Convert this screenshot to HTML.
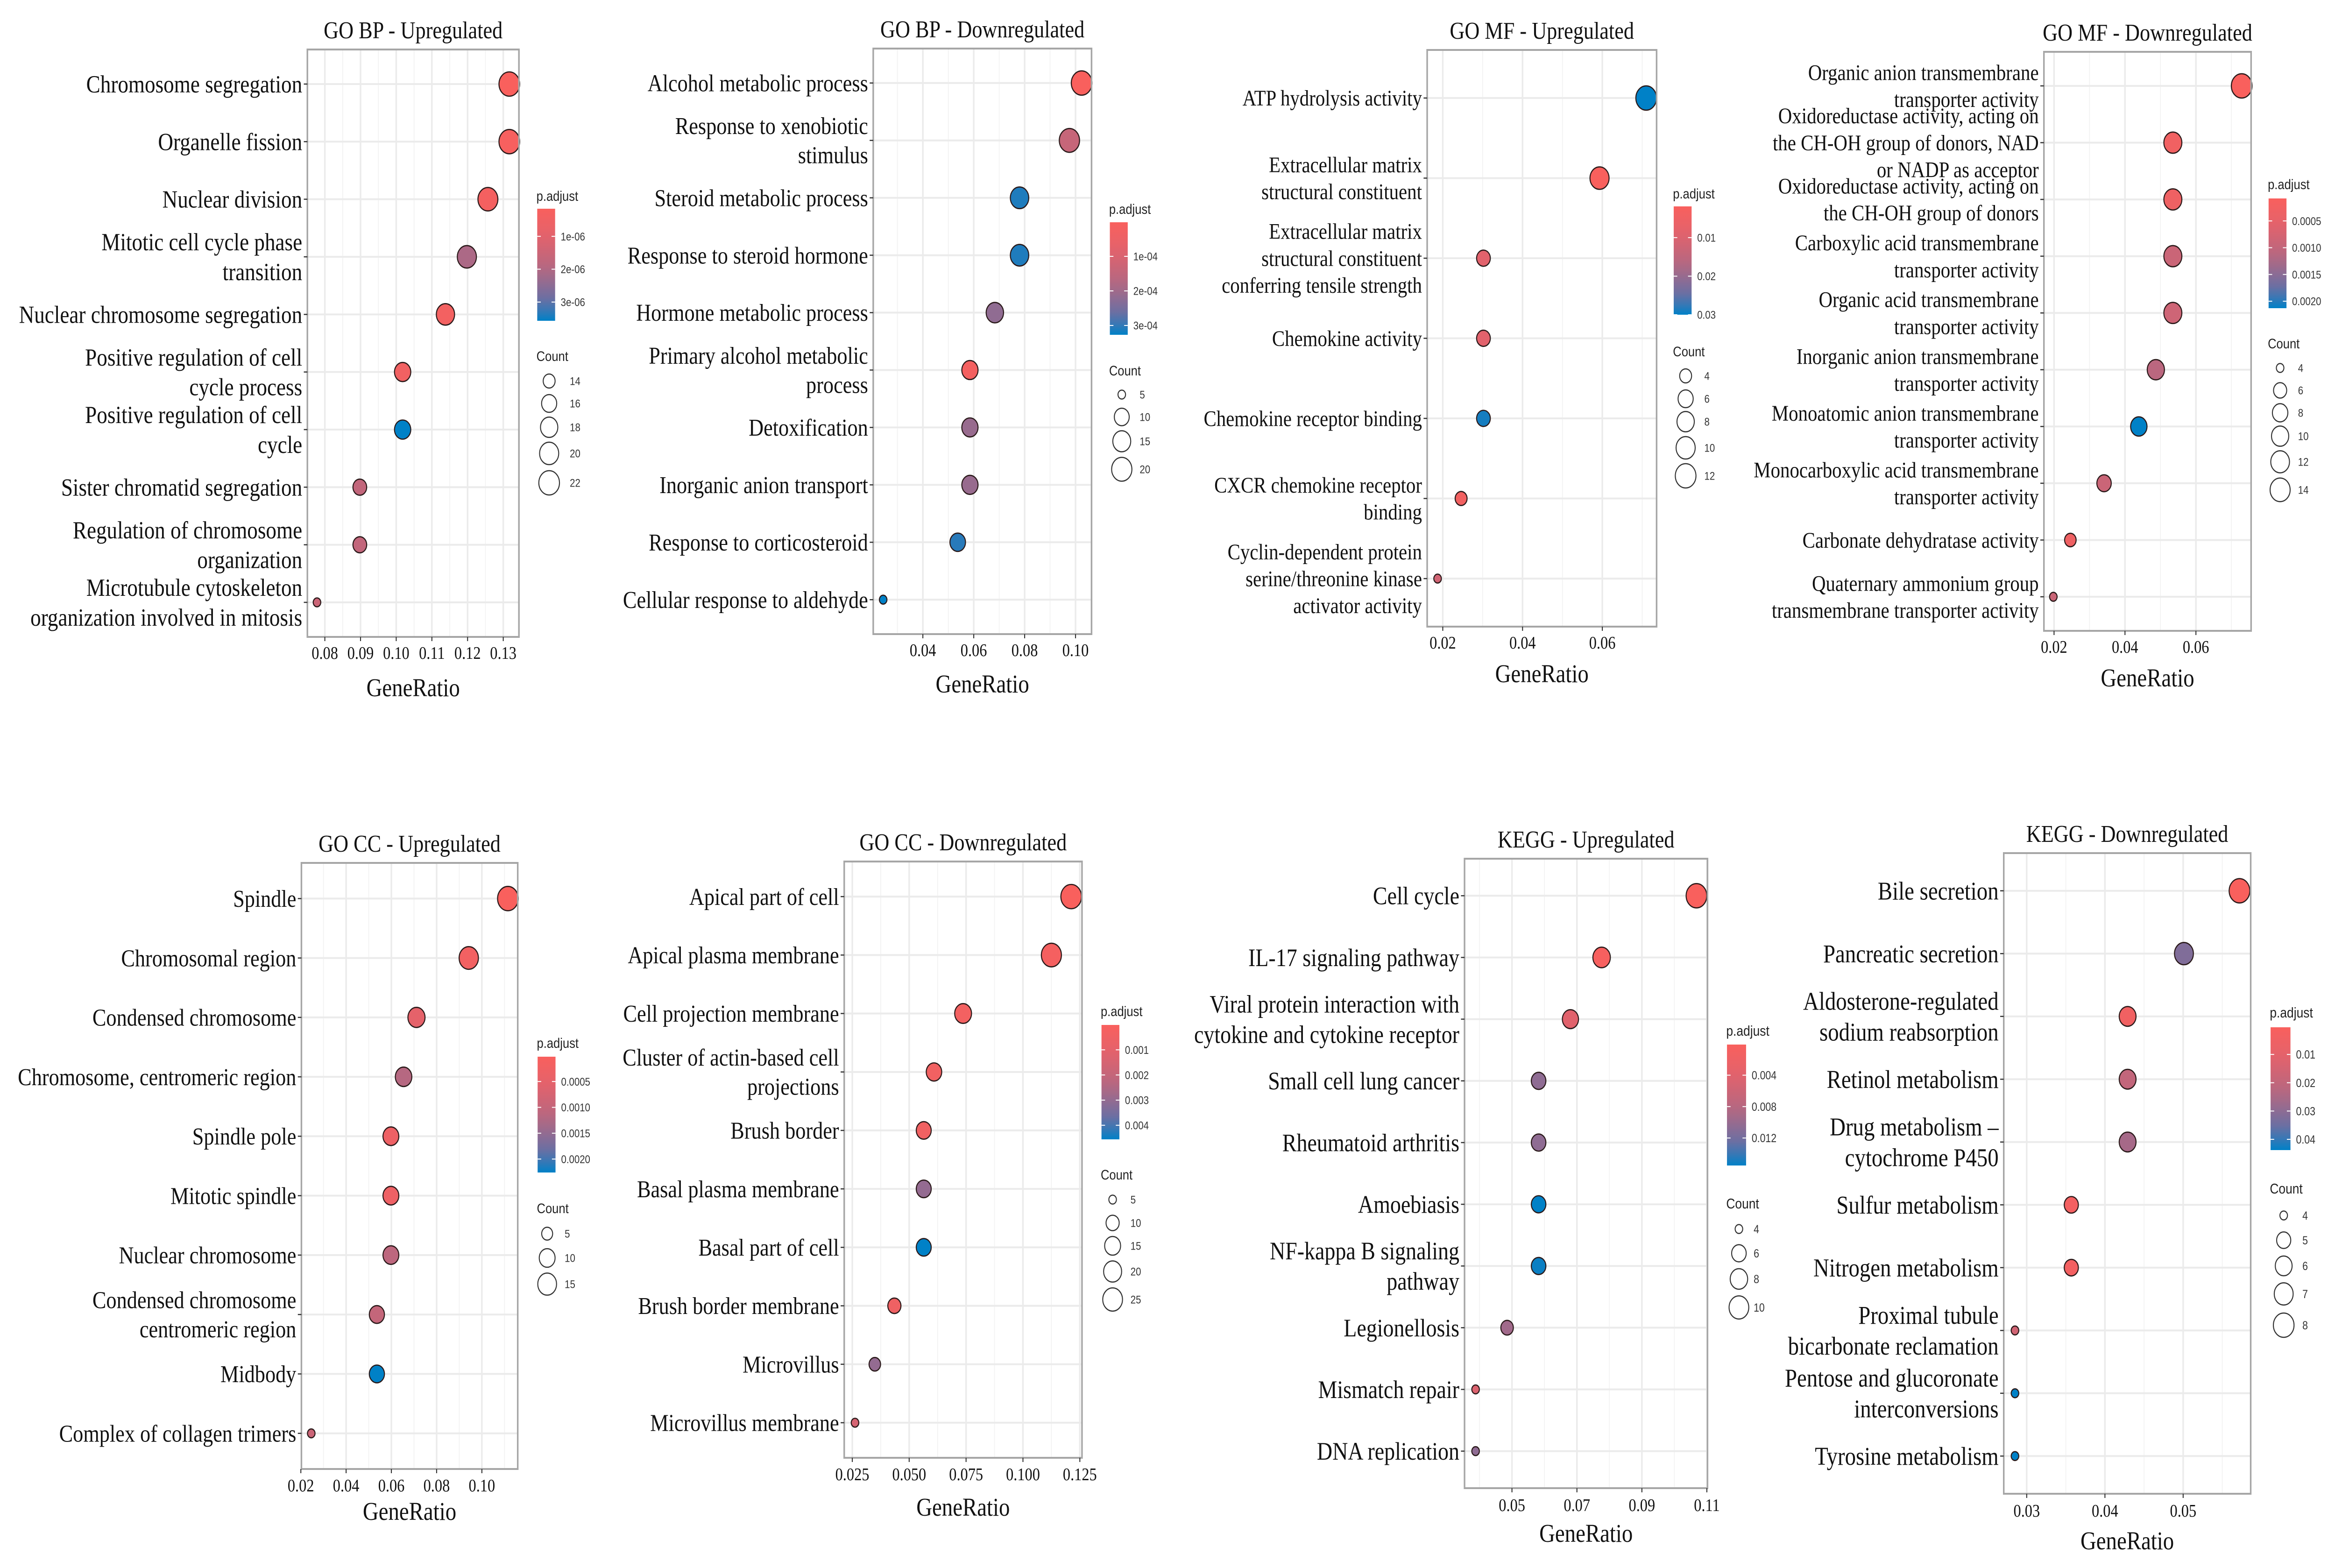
<!DOCTYPE html>
<html><head><meta charset="utf-8"><style>
html,body{margin:0;padding:0;background:#fff;overflow:hidden;width:100%;height:100%;}
svg{display:block;width:100vw;height:100vh;}
</style></head><body>
<svg id="chart" xmlns="http://www.w3.org/2000/svg" viewBox="0 0 5872 3358" preserveAspectRatio="none">
<rect x="0" y="0" width="5872" height="3358" fill="#ffffff"/>
</svg>
<script>
// ---------- DATA (top level) ----------
const p1Title = "GO BP - Upregulated";
const p1Terms = [["Chromosome segregation"],["Organelle fission"],["Nuclear division"],["Mitotic cell cycle phase","transition"],["Nuclear chromosome segregation"],["Positive regulation of cell","cycle process"],["Positive regulation of cell","cycle"],["Sister chromatid segregation"],["Regulation of chromosome","organization"],["Microtubule cytoskeleton","organization involved in mitosis"]];
const p1Ratio = [0.1317,0.1317,0.1257,0.1198,0.1138,0.1018,0.1018,0.0898,0.0898,0.0778];
const p1Padj = [1.6e-7,2.5e-7,3.5e-7,2.1e-6,4e-7,4.5e-7,3.57e-6,1.7e-6,1.7e-6,1.5e-6];
const p1Count = [22,22,21,20,19,17,17,15,15,13];
const p1Ticks = [0.08,0.09,0.10,0.11,0.12,0.13];
const p1TickLabels = ["0.08","0.09","0.10","0.11","0.12","0.13"];
const p1ColorTicks = [1e-6,2e-6,3e-6];
const p1ColorLabels = ["1e-06","2e-06","3e-06"];
const p1SizeBreaks = [14,16,18,20,22];

const p2Title = "GO BP - Downregulated";
const p2Terms = [["Alcohol metabolic process"],["Response to xenobiotic","stimulus"],["Steroid metabolic process"],["Response to steroid hormone"],["Hormone metabolic process"],["Primary alcohol metabolic","process"],["Detoxification"],["Inorganic anion transport"],["Response to corticosteroid"],["Cellular response to aldehyde"]];
const p2Ratio = [0.1024,0.0976,0.0780,0.0780,0.0683,0.0585,0.0585,0.0585,0.0537,0.0244];
const p2Padj = [1.4e-6,1.4e-4,3.1e-4,3.1e-4,2.2e-4,2e-5,2.1e-4,2.1e-4,3.05e-4,3.27e-4];
const p2Count = [21,20,16,16,14,12,12,12,11,5];
const p2Ticks = [0.04,0.06,0.08,0.10];
const p2TickLabels = ["0.04","0.06","0.08","0.10"];
const p2ColorTicks = [1e-4,2e-4,3e-4];
const p2ColorLabels = ["1e-04","2e-04","3e-04"];
const p2SizeBreaks = [5,10,15,20];

const p3Title = "GO MF - Upregulated";
const p3Terms = [["ATP hydrolysis activity"],["Extracellular matrix","structural constituent"],["Extracellular matrix","structural constituent","conferring tensile strength"],["Chemokine activity"],["Chemokine receptor binding"],["CXCR chemokine receptor","binding"],["Cyclin-dependent protein","serine/threonine kinase","activator activity"]];
const p3Ratio = [0.0710,0.0593,0.0302,0.0302,0.0302,0.0246,0.0187];
const p3Padj = [0.030,0.0019,0.009,0.009,0.029,0.004,0.012];
const p3Count = [12,10,5,5,5,4,3];
const p3Ticks = [0.02,0.04,0.06];
const p3TickLabels = ["0.02","0.04","0.06"];
const p3ColorTicks = [0.01,0.02,0.03];
const p3ColorLabels = ["0.01","0.02","0.03"];
const p3SizeBreaks = [4,6,8,10,12];

const p4Title = "GO MF - Downregulated";
const p4Terms = [["Organic anion transmembrane","transporter activity"],["Oxidoreductase activity, acting on","the CH-OH group of donors, NAD","or NADP as acceptor"],["Oxidoreductase activity, acting on","the CH-OH group of donors"],["Carboxylic acid transmembrane","transporter activity"],["Organic acid transmembrane","transporter activity"],["Inorganic anion transmembrane","transporter activity"],["Monoatomic anion transmembrane","transporter activity"],["Monocarboxylic acid transmembrane","transporter activity"],["Carbonate dehydratase activity"],["Quaternary ammonium group","transmembrane transporter activity"]];
const p4Ratio = [0.0729,0.0535,0.0535,0.0535,0.0535,0.0487,0.0439,0.0341,0.0246,0.0198];
const p4Padj = [0.00008,0.00025,0.0003,0.0009,0.00085,0.0011,0.00213,0.0009,0.0003,0.0009];
const p4Count = [15,11,11,11,11,10,9,7,5,4];
const p4Ticks = [0.02,0.04,0.06];
const p4TickLabels = ["0.02","0.04","0.06"];
const p4ColorTicks = [0.0005,0.0010,0.0015,0.0020];
const p4ColorLabels = ["0.0005","0.0010","0.0015","0.0020"];
const p4SizeBreaks = [4,6,8,10,12,14];

const p5Title = "GO CC - Upregulated";
const p5Terms = [["Spindle"],["Chromosomal region"],["Condensed chromosome"],["Chromosome, centromeric region"],["Spindle pole"],["Mitotic spindle"],["Nuclear chromosome"],["Condensed chromosome","centromeric region"],["Midbody"],["Complex of collagen trimers"]];
const p5Ratio = [0.1115,0.0942,0.0711,0.0654,0.0598,0.0598,0.0598,0.0536,0.0536,0.0246];
const p5Padj = [0.00002,0.0002,0.0005,0.0012,0.0003,0.0003,0.0011,0.001,0.00226,0.0009];
const p5Count = [19,16,12,11,10,10,10,9,9,4];
const p5Ticks = [0.02,0.04,0.06,0.08,0.10];
const p5TickLabels = ["0.02","0.04","0.06","0.08","0.10"];
const p5ColorTicks = [0.0005,0.0010,0.0015,0.0020];
const p5ColorLabels = ["0.0005","0.0010","0.0015","0.0020"];
const p5SizeBreaks = [5,10,15];

const p6Title = "GO CC - Downregulated";
const p6Terms = [["Apical part of cell"],["Apical plasma membrane"],["Cell projection membrane"],["Cluster of actin-based cell","projections"],["Brush border"],["Basal plasma membrane"],["Basal part of cell"],["Brush border membrane"],["Microvillus"],["Microvillus membrane"]];
const p6Ratio = [0.1212,0.1125,0.0737,0.0609,0.0564,0.0564,0.0564,0.0435,0.0349,0.0262];
const p6Padj = [0.00001,0.0002,0.0003,0.0004,0.0004,0.003,0.00456,0.0005,0.003,0.0015];
const p6Count = [28,26,17,14,13,13,13,10,8,6];
const p6Ticks = [0.025,0.050,0.075,0.100,0.125];
const p6TickLabels = ["0.025","0.050","0.075","0.100","0.125"];
const p6ColorTicks = [0.001,0.002,0.003,0.004];
const p6ColorLabels = ["0.001","0.002","0.003","0.004"];
const p6SizeBreaks = [5,10,15,20,25];

const p7Title = "KEGG - Upregulated";
const p7Terms = [["Cell cycle"],["IL-17 signaling pathway"],["Viral protein interaction with","cytokine and cytokine receptor"],["Small cell lung cancer"],["Rheumatoid arthritis"],["Amoebiasis"],["NF-kappa B signaling","pathway"],["Legionellosis"],["Mismatch repair"],["DNA replication"]];
const p7Ratio = [0.1068,0.0776,0.0680,0.0582,0.0582,0.0582,0.0582,0.0485,0.0388,0.0388];
const p7Padj = [0.0001,0.0005,0.004,0.0105,0.0105,0.0155,0.0152,0.0095,0.0045,0.0105];
const p7Count = [11,8,7,6,6,6,6,5,4,4];
const p7Ticks = [0.05,0.07,0.09,0.11];
const p7TickLabels = ["0.05","0.07","0.09","0.11"];
const p7ColorTicks = [0.004,0.008,0.012];
const p7ColorLabels = ["0.004","0.008","0.012"];
const p7SizeBreaks = [4,6,8,10];

const p8Title = "KEGG - Downregulated";
const p8Terms = [["Bile secretion"],["Pancreatic secretion"],["Aldosterone-regulated","sodium reabsorption"],["Retinol metabolism"],["Drug metabolism \u2013","cytochrome P450"],["Sulfur metabolism"],["Nitrogen metabolism"],["Proximal tubule","bicarbonate reclamation"],["Pentose and glucoronate","interconversions"],["Tyrosine metabolism"]];
const p8Ratio = [0.0572,0.0501,0.0429,0.0429,0.0429,0.0357,0.0357,0.0285,0.0285,0.0285];
const p8Padj = [0.0004,0.032,0.004,0.02,0.026,0.003,0.003,0.016,0.0438,0.0438];
const p8Count = [8,7,6,6,6,5,5,4,4,4];
const p8Ticks = [0.03,0.04,0.05];
const p8TickLabels = ["0.03","0.04","0.05"];
const p8ColorTicks = [0.01,0.02,0.03,0.04];
const p8ColorLabels = ["0.01","0.02","0.03","0.04"];
const p8SizeBreaks = [4,5,6,7,8];

// ---------- LAYOUT (positions, not data) ----------
const layouts = [
 {id:"go-bp-up", L:773,T:106,R:1305,B:1364, fs:53, tickDy:34, grDy:108,
  leg:{x:1351,titleY:420,barY:447,barH:240,barW:45,countY:763,cx:1381,cy:[816,864,915,971,1034],labX:1433,fs:24}},
 {id:"go-bp-down", L:2196,T:104,R:2745,B:1358, fs:52, tickDy:34, grDy:106,
  leg:{x:2791,titleY:448,barY:476,barH:241,barW:45,countY:794,cx:2821,cy:[845,893,945,1005],labX:2866,fs:24}},
 {id:"go-mf-up", L:3589,T:107,R:4166,B:1342, fs:48, tickDy:34, grDy:100,
  leg:{x:4209,titleY:415,barY:442,barH:232,barW:45,countY:753,cx:4239,cy:[805,854,903,959,1019],labX:4286,fs:24}},
 {id:"go-mf-down", L:5140,T:111,R:5661,B:1351, fs:48, tickDy:34, grDy:100,
  leg:{x:5705,titleY:395,barY:425,barH:235,barW:45,countY:736,cx:5734,cy:[788,836,884,934,989,1049],labX:5779,fs:24}},
 {id:"go-cc-up", L:758,T:1848,R:1302,B:3146, fs:52, tickDy:35, grDy:90,
  leg:{x:1352,titleY:2234,barY:2263,barH:248,barW:45,countY:2588,cx:1376,cy:[2642,2694,2750],labX:1420,fs:24}},
 {id:"go-cc-down", L:2123,T:1845,R:2721,B:3122, fs:52, tickDy:35, grDy:105,
  leg:{x:2770,titleY:2166,barY:2195,barH:245,barW:45,countY:2516,cx:2798,cy:[2569,2619,2668,2723,2783],labX:2843,fs:24}},
 {id:"kegg-up", L:3683,T:1839,R:4294,B:3187, fs:54, tickDy:36, grDy:96,
  leg:{x:4343,titleY:2208,barY:2237,barH:259,barW:48,countY:2578,cx:4373,cy:[2632,2684,2739,2800],labX:4410,fs:25}},
 {id:"kegg-down", L:5039,T:1827,R:5660,B:3199, fs:55, tickDy:36, grDy:100,
  leg:{x:5710,titleY:2169,barY:2200,barH:263,barW:50,countY:2546,cx:5743,cy:[2603,2656,2711,2771,2838],labX:5790,fs:25}}
];
const panels = [
 {title:p1Title,terms:p1Terms,ratio:p1Ratio,padj:p1Padj,count:p1Count,ticks:p1Ticks,tickLabels:p1TickLabels,cTicks:p1ColorTicks,cLabels:p1ColorLabels,sBreaks:p1SizeBreaks},
 {title:p2Title,terms:p2Terms,ratio:p2Ratio,padj:p2Padj,count:p2Count,ticks:p2Ticks,tickLabels:p2TickLabels,cTicks:p2ColorTicks,cLabels:p2ColorLabels,sBreaks:p2SizeBreaks},
 {title:p3Title,terms:p3Terms,ratio:p3Ratio,padj:p3Padj,count:p3Count,ticks:p3Ticks,tickLabels:p3TickLabels,cTicks:p3ColorTicks,cLabels:p3ColorLabels,sBreaks:p3SizeBreaks},
 {title:p4Title,terms:p4Terms,ratio:p4Ratio,padj:p4Padj,count:p4Count,ticks:p4Ticks,tickLabels:p4TickLabels,cTicks:p4ColorTicks,cLabels:p4ColorLabels,sBreaks:p4SizeBreaks},
 {title:p5Title,terms:p5Terms,ratio:p5Ratio,padj:p5Padj,count:p5Count,ticks:p5Ticks,tickLabels:p5TickLabels,cTicks:p5ColorTicks,cLabels:p5ColorLabels,sBreaks:p5SizeBreaks},
 {title:p6Title,terms:p6Terms,ratio:p6Ratio,padj:p6Padj,count:p6Count,ticks:p6Ticks,tickLabels:p6TickLabels,cTicks:p6ColorTicks,cLabels:p6ColorLabels,sBreaks:p6SizeBreaks},
 {title:p7Title,terms:p7Terms,ratio:p7Ratio,padj:p7Padj,count:p7Count,ticks:p7Ticks,tickLabels:p7TickLabels,cTicks:p7ColorTicks,cLabels:p7ColorLabels,sBreaks:p7SizeBreaks},
 {title:p8Title,terms:p8Terms,ratio:p8Ratio,padj:p8Padj,count:p8Count,ticks:p8Ticks,tickLabels:p8TickLabels,cTicks:p8ColorTicks,cLabels:p8ColorLabels,sBreaks:p8SizeBreaks}
];

const NS = "http://www.w3.org/2000/svg";
const svg = document.getElementById("chart");
const SERIF = '"Liberation Serif", "Times New Roman", serif';
const SANS = '"Liberation Sans", Arial, sans-serif';
const R_MIN = 9.5, R_MAX = 26;
const STOPS = [[0,[249,96,93]],[0.25,[226,98,108]],[0.54,[180,104,130]],[0.83,[100,112,166]],[1,[0,129,199]]];

function mk(tag, attrs, parent){
  const e = document.createElementNS(NS, tag);
  for (const k in attrs) e.setAttribute(k, attrs[k]);
  (parent||svg).appendChild(e);
  return e;
}
function colorAt(t){
  t = Math.max(0, Math.min(1, t));
  for (let i=1;i<STOPS.length;i++){
    if (t <= STOPS[i][0]){
      const a=STOPS[i-1], b=STOPS[i], u=(t-a[0])/(b[0]-a[0]);
      const c=a[1].map((v,j)=>Math.round(v+(b[1][j]-v)*u));
      return "rgb("+c.join(",")+")";
    }
  }
  return "rgb(0,129,199)";
}
function extent(arr){ return [Math.min.apply(null,arr), Math.max.apply(null,arr)]; }

panels.forEach(function(p, pi){
  const lay = layouts[pi];
  const g = mk("g", {});
  
  
  const W = lay.R - lay.L, H = lay.B - lay.T;
  const xe = extent(p.ratio), pad = (xe[1]-xe[0])*0.05;
  const x0 = xe[0]-pad, x1 = xe[1]+pad;
  const xScale = v => lay.L + (v - x0)/(x1 - x0)*W;
  const n = p.terms.length, step = H/(n - 1 + 1.2);
  const yScale = i => lay.T + step*(0.6 + i);
  const ce = extent(p.count);
  const rScale = c => {
    const t = ce[1]===ce[0] ? 1 : Math.max(0,(c-ce[0])/(ce[1]-ce[0]));
    return R_MIN + (R_MAX-R_MIN)*Math.sqrt(t);
  };
  const pe = extent(p.padj);
  const cT = v => (v - pe[0])/(pe[1]-pe[0]);

  const bg = mk("rect",{x:lay.L,y:lay.T,width:W,height:H,fill:"#ffffff"},g);
  
  
  const grid = mk("g",{},g);
  
  
  const tstep = p.ticks.length>1 ? p.ticks[1]-p.ticks[0] : 0.01;
  for (let k=-2;k<p.ticks.length+2;k++){
    const mv = p.ticks[0] + tstep*(k+0.5);
    if (mv>x0 && mv<x1){ const xm=xScale(mv); mk("line",{x1:xm,x2:xm,y1:lay.T,y2:lay.B,stroke:"#f2f2f2","stroke-width":2},grid); }
  }
  p.ticks.forEach(function(tv){
    const xt = xScale(tv);
    if (xt>=lay.L && xt<=lay.R) mk("line",{x1:xt,x2:xt,y1:lay.T,y2:lay.B,stroke:"#ebebeb","stroke-width":4},grid);
  });
  for (let i=0;i<n;i++){ const yy=yScale(i); mk("line",{x1:lay.L,x2:lay.R,y1:yy,y2:yy,stroke:"#ebebeb","stroke-width":4},grid); }

  for (let i=0;i<n;i++){
    const c = mk("circle",{cx:xScale(p.ratio[i]),cy:yScale(i),r:rScale(p.count[i]),fill:colorAt(cT(p.padj[i])),stroke:"#2a1a1a","stroke-width":2.6},g);
    
    
  }
  const bd = mk("rect",{x:lay.L,y:lay.T,width:W,height:H,fill:"none",stroke:"#a6a6a6","stroke-width":4},g);
  
  

  const fs = lay.fs, lh = fs*1.2;
  for (let i=0;i<n;i++){
    const yy = yScale(i);
    mk("line",{x1:lay.L-9,x2:lay.L,y1:yy,y2:yy,stroke:"#333","stroke-width":2.5},g);
    const lines = p.terms[i];
    const t = mk("text",{x:lay.L-13,"text-anchor":"end","font-family":SERIF,"font-size":fs,fill:"#111"},g);
    
    
    lines.forEach(function(s, li){
      const ts = mk("tspan",{x:lay.L-13,y:(yy + (li-(lines.length-1)/2)*lh + fs*0.34).toFixed(1)},t);
      ts.textContent = s;
    });
  }
  p.ticks.forEach(function(tv, ti){
    const xt = xScale(tv);
    mk("line",{x1:xt,x2:xt,y1:lay.B,y2:lay.B+9,stroke:"#333","stroke-width":2.5},g);
    const tl = mk("text",{x:xt,y:lay.B+lay.tickDy+13,"text-anchor":"middle","font-family":SERIF,"font-size":38,fill:"#111"},g);
    
    
    tl.textContent = p.tickLabels[ti];
  });
  const xt = mk("text",{x:(lay.L+lay.R)/2,y:lay.B+lay.grDy+19,"text-anchor":"middle","font-family":SERIF,"font-size":55,fill:"#111"},g);
  
  
  xt.textContent = "GeneRatio";
  const tt = mk("text",{x:(lay.L+lay.R)/2,y:lay.T-24,"text-anchor":"middle","font-family":SERIF,"font-size":52,fill:"#111"},g);
  
  
  tt.textContent = p.title;

  const lg = lay.leg;
  const leg = mk("g",{},g);
  
  
  const lt = mk("text",{x:lg.x-2,y:lg.titleY+10,"font-family":SANS,"font-size":lg.fs+6,fill:"#222"},leg);
  lt.textContent = "p.adjust";
  const gid = "grad"+pi;
  const defs = mk("defs",{},leg);
  const lgr = mk("linearGradient",{id:gid,x1:0,y1:0,x2:0,y2:1},defs);
  for (let s=0;s<=10;s++){ mk("stop",{offset:(s*10)+"%","stop-color":colorAt(s/10)},lgr); }
  const bar = mk("rect",{x:lg.x,y:lg.barY,width:lg.barW,height:lg.barH,fill:"url(#"+gid+")"},leg);
  
  
  p.cTicks.forEach(function(v, ci){
    const yy = lg.barY + cT(v)*lg.barH;
    mk("line",{x1:lg.x,x2:lg.x+9,y1:yy,y2:yy,stroke:"#fff","stroke-width":2},leg);
    mk("line",{x1:lg.x+lg.barW-9,x2:lg.x+lg.barW,y1:yy,y2:yy,stroke:"#fff","stroke-width":2},leg);
    const cl = mk("text",{x:lg.x+lg.barW+14,y:yy+lg.fs*0.36,"font-family":SANS,"font-size":lg.fs,fill:"#333"},leg);
    cl.textContent = p.cLabels[ci];
  });
  const ct = mk("text",{x:lg.x-2,y:lg.countY+10,"font-family":SANS,"font-size":lg.fs+6,fill:"#222"},leg);
  ct.textContent = "Count";
  p.sBreaks.forEach(function(c, si){
    const cy = lg.cy[si];
    const lc = mk("circle",{cx:lg.cx,cy:cy,r:rScale(c),fill:"none",stroke:"#333","stroke-width":2.5},leg);
    
    
    const sl = mk("text",{x:lg.labX,y:cy+lg.fs*0.36,"font-family":SANS,"font-size":lg.fs,fill:"#333"},leg);
    sl.textContent = String(c);
  });
});
</script>
</body></html>
